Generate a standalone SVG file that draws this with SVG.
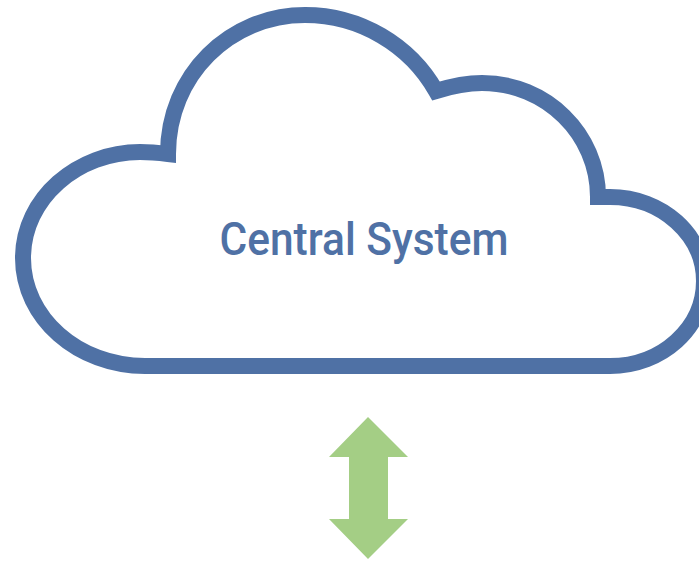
<svg xmlns="http://www.w3.org/2000/svg" width="699" height="563" viewBox="0 0 699 563">
<style>
.cloud{fill:#fff;stroke:#4f71a5;stroke-width:16;stroke-miterlimit:10}
.label{font-family:Roboto,"Liberation Sans",sans-serif;font-size:46px;font-weight:500;fill:#4f71a5}
.arrow{fill:#a4ce85}
</style>
<rect width="699" height="563" fill="#fff"/>
<g id="cloud">
<path class="cloud" d="M145 366 C78 366 23 318 23 258 C23 198 78 152 140 152 C150 152 160 153 168 154 C168 75 230 15 305 15 C360 15 410 45 436 91 C452 86 467 83 482 83 C546 83 598 134 598 197 L610 197 C662 197 704 235 704 281 C704 328 662 366 610 366 Z"/>
<text class="label" x="364" y="255" text-anchor="middle" textLength="289" lengthAdjust="spacingAndGlyphs">Central System</text>
</g>
<g id="connectors">
<polygon class="arrow" points="368,417 408,457 388,457 388,519 408,519 368,559 329,519 349,519 349,457 329,457"/>
</g>
</svg>
